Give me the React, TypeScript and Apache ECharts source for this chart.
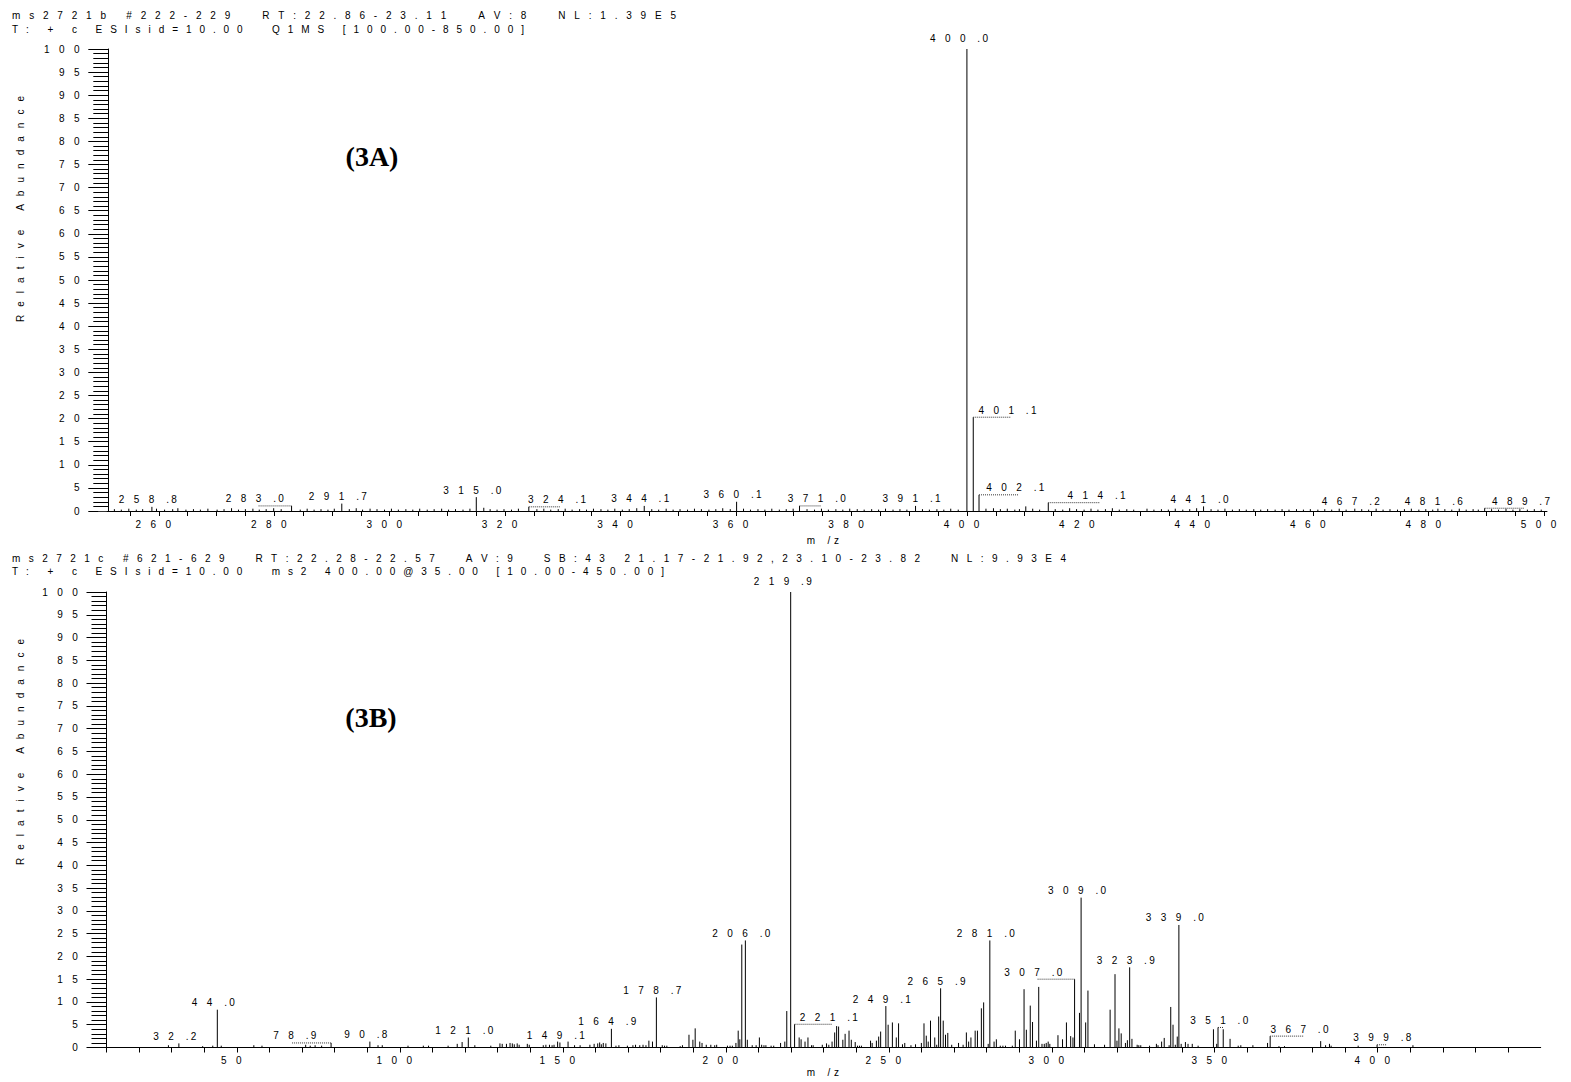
import React, { useEffect, useRef } from "react";
import * as echarts from "echarts";

// ---------------- texts ----------------
const headerA = [
  "ms2721b #222-229  RT:22.86-23.11  AV:8  NL:1.39E5",
  "T: + c ESIsid=10.00  Q1MS [100.00-850.00]",
];
const headerB = [
  "ms2721c #621-629  RT:22.28-22.57  AV:9  SB:43 21.17-21.92,23.10-23.82  NL:9.93E4",
  "T: + c ESIsid=10.00  ms2 400.00@35.00 [10.00-450.00]",
];
const yAxisName = "Relative Abundance";
const xAxisName = "m /z";
const panelTitles = ["(3A)", "(3B)"];

// ---------------- data: panel A (Q1MS) ----------------
const peaksA: [number, number][] = [
  [258.8, 0.9], [283.0, 1.1], [291.7, 1.6], [315.0, 3.0], [324.1, 0.9], [344.1, 1.1],
  [360.1, 2.0], [371.0, 1.1], [391.1, 1.1], [400.0, 100], [401.1, 20.3], [402.1, 3.5],
  [410.2, 1.0], [414.1, 1.8], [441.0, 1.0], [467.2, 0.5], [481.6, 0.5], [489.7, 0.6],
];
const noiseA: [number, number][] = [
  [252.3, 0.4], [253.5, 0.3], [254.8, 0.5], [256.1, 0.3], [257.2, 0.4], [259.6, 0.5], [261.0, 0.3],
  [262.4, 0.4], [263.3, 0.6], [264.7, 0.3], [266.0, 0.4], [267.2, 0.3], [268.5, 0.5], [270.1, 0.3],
  [271.3, 0.4], [272.6, 0.6], [273.8, 0.3], [275.0, 0.4], [276.3, 0.5], [277.4, 0.3], [278.6, 0.4],
  [279.9, 0.6], [281.2, 0.4], [284.5, 0.3], [285.7, 0.5], [286.9, 0.3], [288.1, 0.4], [289.3, 0.3],
  [290.4, 0.5], [293.0, 0.4], [294.2, 0.6], [295.3, 0.3], [296.6, 0.5], [297.8, 0.4], [299.1, 0.3],
  [300.3, 0.5], [301.5, 0.3], [302.8, 0.4], [304.0, 0.3], [305.2, 0.5], [306.5, 0.3], [307.7, 0.4],
  [309.0, 0.5], [310.2, 0.3], [311.4, 0.4], [312.7, 0.3], [313.9, 0.5], [316.3, 0.7], [317.4, 0.4],
  [318.6, 0.3], [319.8, 0.4], [321.1, 0.3], [322.3, 0.5], [325.5, 0.4], [326.7, 0.5], [327.9, 0.3],
  [329.2, 0.4], [330.4, 0.5], [331.6, 0.3], [332.9, 0.4], [334.1, 0.3], [335.3, 0.5], [336.6, 0.4],
  [337.8, 0.3], [339.0, 0.5], [340.3, 0.3], [341.5, 0.4], [342.8, 0.6], [345.4, 0.4], [346.6, 0.3],
  [347.9, 0.5], [349.1, 0.3], [350.3, 0.4], [351.6, 0.3], [352.8, 0.5], [354.0, 0.4], [355.3, 0.3],
  [356.5, 0.4], [357.7, 0.6], [359.0, 0.4], [361.3, 0.5], [362.5, 0.3], [363.8, 0.4], [365.0, 0.3],
  [366.2, 0.5], [367.5, 0.3], [368.7, 0.4], [369.9, 0.5], [372.3, 0.4], [373.6, 0.3], [374.8, 0.5],
  [376.0, 0.3], [377.3, 0.4], [378.5, 0.3], [379.7, 0.5], [381.0, 0.4], [382.2, 0.3], [383.5, 0.4],
  [384.7, 0.3], [385.9, 0.5], [387.2, 0.3], [388.4, 0.4], [389.6, 0.3], [392.3, 0.4], [393.5, 0.3],
  [394.8, 0.4], [396.0, 0.3], [397.2, 0.5], [398.5, 0.3], [403.3, 0.5], [404.6, 0.6], [405.8, 0.4],
  [407.0, 0.5], [408.3, 0.3], [409.1, 0.4], [411.4, 0.5], [412.6, 0.3], [415.3, 0.4], [416.6, 0.3],
  [417.8, 0.6], [419.0, 0.4], [420.3, 0.3], [421.5, 0.5], [422.7, 0.3], [424.0, 0.4], [425.2, 0.6],
  [426.4, 0.3], [427.7, 0.4], [428.9, 0.3], [431.2, 0.5], [432.4, 0.3], [433.7, 0.4], [434.9, 0.3],
  [436.1, 0.5], [437.4, 0.3], [438.6, 0.4], [439.8, 0.6], [442.3, 0.4], [443.5, 0.3], [444.7, 0.5],
  [446.0, 0.3], [447.2, 0.4], [448.4, 0.3], [449.7, 0.4], [450.9, 0.3], [452.1, 0.4], [453.4, 0.3],
  [454.6, 0.4], [455.8, 0.3], [457.1, 0.4], [458.3, 0.3], [459.5, 0.4], [460.8, 0.3], [462.0, 0.4],
  [463.2, 0.3], [464.5, 0.5], [465.7, 0.3], [468.4, 0.4], [469.6, 0.3], [470.9, 0.5], [472.1, 0.3],
  [473.3, 0.4], [474.6, 0.3], [475.8, 0.4], [477.0, 0.5], [478.3, 0.3], [479.5, 0.4], [480.7, 0.3],
  [482.8, 0.4], [484.0, 0.3], [485.3, 0.5], [486.5, 0.3], [487.7, 0.4], [488.6, 0.3], [490.9, 0.4],
  [492.1, 0.3], [493.4, 0.5], [494.6, 0.3], [495.8, 0.4], [497.1, 0.3], [498.3, 0.4], [499.5, 0.3],
];
const labelsA: [string, number][] = [
  ["258.8", 0.9], ["283.0", 1.1], ["291.7", 1.6], ["315.0", 3.0], ["324.1", 0.9], ["344.1", 1.1],
  ["360.1", 2.0], ["371.0", 1.1], ["391.1", 1.1], ["400.0", 100], ["401.1", 20.3], ["402.1", 3.5],
  ["414.1", 1.8], ["441.0", 1.0], ["467.2", 0.5], ["481.6", 0.5], ["489.7", 0.6],
];

// ---------------- data: panel B (MS2 of 400) ----------------
const peaksB: [number, number][] = [
  [29.0, 0.5], [32.2, 0.9], [39.5, 0.3], [42.6, 0.4], [44.0, 8.3], [45.2, 0.4], [55.2, 0.5],
  [57.7, 0.4], [71.1, 0.6], [72.5, 0.4], [74.0, 0.5], [76.0, 0.4], [78.9, 1.0], [90.8, 1.3],
  [93.3, 0.5], [94.6, 0.5], [102.5, 0.4], [107.2, 0.4], [108.8, 0.4], [114.8, 0.4], [117.6, 0.8],
  [119.1, 1.2], [121.0, 2.2], [123.0, 0.5], [127.9, 0.4], [130.7, 0.9], [131.4, 0.8], [132.7, 0.8],
  [133.8, 1.0], [134.5, 0.9], [135.1, 0.7], [136.0, 0.9], [136.6, 0.6], [139.1, 0.8], [139.7, 0.6],
  [144.0, 0.5], [144.8, 0.6], [145.9, 0.6], [146.7, 0.5], [147.3, 0.6], [148.4, 1.3], [149.1, 1.1],
  [151.6, 1.3], [153.6, 0.5], [155.3, 0.5], [158.3, 0.6], [159.6, 0.8], [160.7, 0.9], [161.3, 1.1],
  [161.8, 0.7], [162.4, 1.0], [163.2, 0.9], [164.9, 4.1], [166.3, 0.4], [167.2, 0.5], [169.8, 0.4],
  [171.5, 0.5], [172.3, 0.6], [173.6, 0.5], [174.6, 0.6], [175.5, 0.5], [176.4, 1.5], [177.5, 1.3],
  [178.7, 11.0], [180.5, 0.5], [181.2, 0.4], [181.9, 0.4], [186.0, 0.3], [186.7, 0.5], [188.7, 2.8],
  [189.9, 1.7], [190.6, 4.2], [192.0, 1.3], [192.7, 1.0], [194.0, 0.6], [195.4, 0.6], [196.6, 0.5],
  [197.2, 0.6], [200.5, 0.4], [201.3, 0.4], [202.0, 0.4], [203.1, 1.0], [203.8, 3.7], [204.3, 1.8],
  [204.9, 22.6], [206.0, 23.5], [206.6, 1.7], [208.1, 0.5], [209.3, 0.5], [210.3, 2.2], [211.0, 0.6],
  [211.7, 0.5], [212.3, 0.5], [213.9, 0.4], [214.7, 0.4], [216.8, 1.0], [218.1, 1.3], [218.7, 8.0],
  [219.9, 100], [221.1, 5.1], [222.5, 2.2], [223.1, 1.8], [224.3, 1.3], [225.2, 2.2], [226.3, 0.5],
  [226.8, 0.5], [229.6, 0.6], [230.9, 0.9], [231.6, 0.6], [232.6, 1.3], [233.4, 3.3], [234.0, 4.7],
  [234.6, 4.6], [235.9, 1.7], [236.6, 3.0], [237.8, 3.7], [238.5, 1.7], [239.7, 1.2], [240.4, 0.4],
  [241.0, 0.4], [241.6, 0.4], [244.4, 1.5], [244.9, 1.0], [246.2, 1.5], [246.9, 2.4], [247.5, 3.5],
  [249.1, 9.1], [249.8, 5.0], [251.1, 5.5], [252.3, 2.2], [253.0, 5.3], [254.2, 0.7], [254.9, 1.0],
  [256.8, 0.5], [258.2, 0.7], [260.0, 1.0], [260.8, 5.3], [261.5, 2.6], [262.1, 1.3], [262.8, 5.9],
  [264.1, 2.2], [264.7, 0.6], [265.3, 6.8], [265.9, 13.0], [266.7, 5.9], [267.4, 2.8], [268.1, 3.2],
  [269.3, 0.6], [271.4, 1.0], [272.8, 0.6], [273.8, 3.3], [274.5, 1.3], [275.2, 2.2], [276.5, 3.7],
  [277.2, 3.7], [278.4, 8.6], [279.1, 9.9], [280.5, 0.8], [281.0, 23.5], [282.3, 1.3], [283.0, 1.8],
  [284.2, 0.4], [285.0, 0.4], [285.8, 0.4], [287.9, 0.4], [288.8, 3.7], [290.1, 1.8], [291.5, 12.8],
  [292.2, 3.9], [293.4, 9.2], [294.1, 5.6], [295.3, 1.5], [296.0, 13.3], [297.0, 0.8], [297.7, 0.8],
  [298.3, 1.0], [298.9, 1.3], [299.4, 0.8], [301.9, 2.7], [303.3, 1.8], [304.5, 5.5], [305.8, 2.5],
  [306.5, 2.2], [307.0, 15.0], [308.5, 7.6], [309.0, 32.9], [310.4, 5.5], [311.1, 12.5], [313.1, 0.7],
  [316.2, 0.6], [317.9, 8.3], [319.4, 16.1], [320.0, 1.5], [320.6, 4.2], [321.3, 3.1], [322.6, 1.0],
  [323.2, 1.6], [323.9, 17.6], [324.6, 1.9], [326.2, 0.6], [326.7, 0.5], [327.3, 0.5], [330.0, 0.4],
  [332.1, 0.8], [332.6, 0.5], [333.7, 1.3], [334.5, 2.1], [336.0, 0.5], [336.5, 8.9], [337.2, 5.0],
  [337.9, 0.6], [338.5, 2.4], [339.0, 26.9], [339.7, 0.8], [341.0, 1.2], [341.8, 0.8], [343.1, 0.8],
  [344.9, 0.4], [349.6, 4.0], [350.6, 0.8], [351.0, 4.4], [352.6, 4.0], [354.7, 1.9], [357.2, 0.4],
  [358.0, 0.5], [361.7, 0.5], [366.2, 1.0], [367.0, 2.5], [369.7, 0.3], [371.4, 0.3], [382.5, 1.4],
  [384.0, 0.5], [385.2, 0.8], [385.7, 0.4], [394.0, 0.4], [399.8, 0.6], [410.8, 0.5],
];
const labelsB: [string, number][] = [
  ["32.2", 0.9], ["44.0", 8.3], ["78.9", 1.0], ["90.8", 1.3], ["121.0", 2.2], ["149.1", 1.1],
  ["164.9", 4.1], ["178.7", 11.0], ["206.0", 23.5], ["219.9", 100], ["221.1", 5.1], ["249.1", 9.1],
  ["265.9", 13.0], ["281.0", 23.5], ["307.0", 15.0], ["309.0", 32.9], ["323.9", 17.6], ["339.0", 26.9],
  ["351.0", 4.4], ["367.0", 2.5], ["399.8", 0.6],
];

// ---------------- style / layout (not data) ----------------
const FONT = '"Liberation Sans", Arial, Helvetica, sans-serif';
const SMALL = `10px ${FONT}`;
const PITCH = 15;
// leader (dotted) labels: px offset of the units digit from the peak line
const leaderA: Record<string, number> = {
  "283.0": -33, "324.1": 32, "371.0": 21, "401.1": 38, "402.1": 40, "414.1": 52, "489.7": 40,
};
const leaderB: Record<string, number> = {
  "78.9": -40, "221.1": 38, "307.0": -37.5, "351.0": 5, "367.0": 33, "399.8": 9,
};
const W = 1571;
const H = 1082;
// panel A: x axis starts at 250 (a multiple of the tick interval); the y axis is moved in to m/z ~251.2
const A_PX = 5.825;
const A_LEFT = 101.1;
const A_YAXIS = 108.3;
const A_MAX = 500.5;

function makeMeasure(font: string) {
  const ctx = document.createElement("canvas").getContext("2d") as CanvasRenderingContext2D;
  ctx.font = font;
  return (s: string) => ctx.measureText(s).width;
}

function spaced(text: string, x0: number, x1: number, y: number, font: string) {
  const m = makeMeasure(font);
  const chars = Array.from(text);
  const widths = chars.map((c) => m(c));
  const total = widths.reduce((a, b) => a + b, 0);
  const gap = (x1 - x0 - total) / (chars.length - 1);
  let x = x0;
  const out: any[] = [];
  chars.forEach((c, i) => {
    if (c !== " ") {
      out.push({
        type: "text",
        x,
        y,
        silent: true,
        style: { text: c, font, fill: "#000", align: "left", verticalAlign: "middle", textAlign: "left", textVerticalAlign: "middle" },
      });
    }
    x += widths[i] + gap;
  });
  return out;
}

function charEl(c: string, x: number, y: number) {
  return {
    type: "text",
    x,
    y,
    silent: true,
    style: { text: c, font: SMALL, fill: "#000", align: "center", verticalAlign: "middle", textAlign: "center", textVerticalAlign: "middle" },
  };
}

const cellRich = {
  d: { width: PITCH, align: "center", fontSize: 10, fontFamily: FONT, color: "#000" },
  e: { width: 11, align: "center", fontSize: 10, fontFamily: FONT, color: "#000" },
};
const cells = (v: number, pad: boolean) =>
  String(Math.round(v)).split("").map((c) => `{d|${c}}`).join("") + (pad ? "{e|\u00a0}" : "");
const isMult = (v: number, k: number) => Math.abs(v / k - Math.round(v / k)) < 1e-6;

function peakRender(params: any, api: any) {
  const x = api.value(0);
  const y = api.value(1);
  const p0 = api.coord([x, 0]);
  const p1 = api.coord([x, y]);
  return {
    type: "line",
    silent: true,
    shape: { x1: p0[0], y1: p0[1], x2: p1[0], y2: p1[1] },
    style: { stroke: "#000", lineWidth: 1 },
  };
}

function labelRender(labels: [string, number][], leaders: Record<string, number>) {
  return (params: any, api: any) => {
    const idx = api.value(2);
    const [text, h] = labels[idx];
    const mz = parseFloat(text);
    const top = api.coord([mz, h]);
    const lead = leaders[text];
    const [ip, dp] = text.split(".");
    const n = ip.length;
    let first: number;
    if (lead !== undefined) {
      first = top[0] + lead - (n - 1) * PITCH;
    } else {
      const centre = top[0] + (h >= 99 ? -8 : -4);
      first = centre - ((n - 1) * PITCH + 22.5) / 2;
    }
    const units = first + (n - 1) * PITCH;
    const cy = top[1] - (h >= 99 ? 11 : 7);
    const children: any[] = [];
    ip.split("").forEach((c, i) => children.push(charEl(c, first + i * PITCH, cy)));
    children.push(charEl(".", units + 16, cy));
    children.push(charEl(dp, units + 22.5, cy));
    if (lead !== undefined) {
      children.push({
        type: "line",
        silent: true,
        shape: { x1: top[0], y1: top[1], x2: units, y2: top[1] },
        style: { stroke: "#333", lineWidth: 1, lineDash: [1, 1] },
      });
    }
    return { type: "group", children };
  };
}

function yAxisOpt(gridIndex: number, offset: number) {
  return {
    type: "value",
    gridIndex,
    min: 0,
    max: 100,
    interval: 5,
    offset,
    axisLine: { show: true, onZero: false, lineStyle: { color: "#000", width: 1 } },
    axisTick: { show: true, length: 20, lineStyle: { color: "#000", width: 1 } },
    minorTick: { show: true, splitNumber: 5, length: 15, lineStyle: { color: "#000", width: 1 } },
    splitLine: { show: false },
    minorSplitLine: { show: false },
    axisLabel: { margin: 24, formatter: (v: number) => cells(v, false), rich: cellRich },
  };
}

export default function App() {
  const ref = useRef<HTMLDivElement>(null);
  useEffect(() => {
    document.body.style.margin = "0";
    document.body.style.overflow = "hidden";
    const chart = echarts.init(ref.current as HTMLDivElement, null, { renderer: "svg" });

    const graphics: any[] = [];
    graphics.push(...spaced(headerA[0], 12, 676, 15, SMALL));
    graphics.push(...spaced(headerA[1], 12, 524, 29, SMALL));
    graphics.push(...spaced(headerB[0], 12, 1066, 558, SMALL));
    graphics.push(...spaced(headerB[1], 12, 664, 571, SMALL));
    [[322, 20], [865, 20]].forEach(([yStart, x]) => {
      graphics.push({
        type: "group",
        x,
        y: yStart,
        rotation: Math.PI / 2,
        children: spaced(yAxisName, 0, 226, 0, SMALL),
      });
    });
    [540, 1072].forEach((y) => {
      const chars = Array.from(xAxisName);
      const xs = [811, 0, 829, 836.5];
      chars.forEach((c, i) => {
        if (c !== " ") graphics.push(charEl(c, xs[i], y));
      });
    });
    [[372, 156, panelTitles[0]], [371, 717, panelTitles[1]]].forEach(([x, y, t]) => {
      graphics.push({
        type: "text",
        x,
        y,
        silent: true,
        style: {
          text: t,
          font: 'bold 28px "Liberation Serif", "Times New Roman", serif',
          fill: "#000",
          align: "center",
          verticalAlign: "middle",
          textAlign: "center",
          textVerticalAlign: "middle",
        },
      });
    });
    // hides the stub tick of panel A's axis left of the y axis
    graphics.push({
      type: "rect",
      z: 100,
      silent: true,
      shape: { x: A_LEFT - 3, y: 511.8, width: A_YAXIS - A_LEFT + 1.5, height: 8 },
      style: { fill: "#fff" },
    });

    const option: any = {
      animation: false,
      backgroundColor: "#fff",
      grid: [
        { left: A_LEFT, top: 49, width: (A_MAX - 250) * A_PX, height: 462 },
        { left: 106.5, top: 592, width: 1434.2, height: 455.5 },
      ],
      xAxis: [
        {
          type: "value",
          gridIndex: 0,
          min: 250,
          max: A_MAX,
          interval: 5,
          axisLine: { show: true, onZero: false, lineStyle: { color: "#000", width: 1 } },
          axisTick: { show: true, length: 5, lineStyle: { color: "#000", width: 1 } },
          splitLine: { show: false },
          axisLabel: {
            margin: 8,
            showMaxLabel: false,
            formatter: (v: number) => (isMult(v, 20) && v > 255 ? cells(v, true) : ""),
            rich: cellRich,
          },
        },
        {
          type: "value",
          gridIndex: 1,
          min: 10,
          max: 450,
          interval: 10,
          axisLine: { show: true, onZero: false, lineStyle: { color: "#000", width: 1 } },
          axisTick: { show: true, length: 5, lineStyle: { color: "#000", width: 1 } },
          splitLine: { show: false },
          axisLabel: {
            margin: 8,
            showMaxLabel: false,
            formatter: (v: number) => (isMult(v, 50) && v < 449 ? cells(v, true) : ""),
            rich: cellRich,
          },
        },
      ],
      yAxis: [yAxisOpt(0, -(A_YAXIS - A_LEFT)), yAxisOpt(1, 0)],
      series: [
        {
          type: "custom",
          xAxisIndex: 0,
          yAxisIndex: 0,
          clip: false,
          renderItem: peakRender,
          data: noiseA.concat(peaksA),
        },
        {
          type: "custom",
          xAxisIndex: 0,
          yAxisIndex: 0,
          clip: false,
          renderItem: labelRender(labelsA, leaderA),
          data: labelsA.map((l, i) => [parseFloat(l[0]), l[1], i]),
        },
        {
          type: "custom",
          xAxisIndex: 1,
          yAxisIndex: 1,
          clip: false,
          renderItem: peakRender,
          data: peaksB,
        },
        {
          type: "custom",
          xAxisIndex: 1,
          yAxisIndex: 1,
          clip: false,
          renderItem: labelRender(labelsB, leaderB),
          data: labelsB.map((l, i) => [parseFloat(l[0]), l[1], i]),
        },
      ],
      graphic: { elements: graphics },
    };
    chart.setOption(option);
    return () => chart.dispose();
  }, []);
  return <div ref={ref} style={{ width: W, height: H }} />;
}
